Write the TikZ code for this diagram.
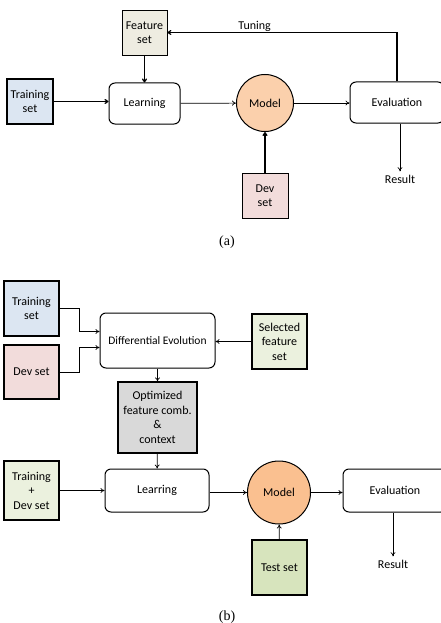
\documentclass[tikz,border=0pt]{standalone}
\usepackage{fontspec}
\setmainfont{Carlito}
\newfontfamily\capfont{Liberation Serif}
\usetikzlibrary{positioning,arrows.meta}

\definecolor{trainblue}{HTML}{DCE6F2}
\definecolor{featbeige}{HTML}{EEECE1}
\definecolor{devpink}{HTML}{F2DCDB}
\definecolor{peachlight}{HTML}{FBD0AC}
\definecolor{peach}{HTML}{FAC090}
\definecolor{selgreen}{HTML}{EBF1DE}
\definecolor{testgreen}{HTML}{D7E4BD}
\definecolor{optgray}{HTML}{D9D9D9}

\begin{document}
\begin{tikzpicture}[x=1pt,y=-1pt,
			every node/.style={font=\fontsize{12}{14.5}\selectfont},
			box/.style={draw,rectangle,inner sep=0pt,align=center,line width=0.8pt},
			rbox/.style={box,rounded corners=6pt,line width=1pt,fill=white},
			mdl/.style={draw,circle,inner sep=0pt,line width=1pt},
			arr/.style={-{To[length=4pt,width=5pt]},line width=0.7pt},
			tarr/.style={arr,line width=1.2pt},
			subcap/.style={font=\capfont\fontsize{14}{16}\selectfont}]
			\useasboundingbox (0,0) rectangle (441,623);

			\node (feat) [box,fill=featbeige,minimum width=45pt,minimum height=45pt] at (144.5,32.5) {Feature\\set};
			\node (train) [box,fill=trainblue,line width=1.5pt,minimum width=46pt,minimum height=45pt] at (30,101.5) {Training\\set};
			\node (learn) [rbox,minimum width=71pt,minimum height=41pt] at (144.5,103.5) {Learning};
			\node (model) [mdl,fill=peachlight,minimum size=57pt] at (265,103) {Model};
			\node (eval) [rbox,minimum width=94pt,minimum height=41pt] at (397,102.5) {Evaluation};
			\node (dev) [box,fill=devpink,minimum width=46pt,minimum height=45pt] at (265,195.5) {Dev\\set};
			\node (result) at (400,179) {Result};
			\node (capa) [subcap] at (227,242) {(a)};

			\draw [tarr] (feat) -- (learn);
			\draw [tarr] (train.east) -- (train.east -| learn.west);
			\draw [arr] (learn) -- (model);
			\draw [arr] (model) -- (model -| eval.west);
			\draw [tarr] (dev) -- (model);
			\draw [arr] (eval.south -| result) -- (result.north);
			\draw [tarr] (eval.north) |- node [above,inner sep=0.5pt,pos=0.81] {Tuning} (feat.east);

			\node (trainb) [box,fill=trainblue,line width=1.2pt,minimum width=55pt,minimum height=55pt] at (31.5,308.5) {Training\\set};
			\node (devb) [box,fill=devpink,line width=1.2pt,minimum width=55pt,minimum height=54pt] at (31.5,372) {Dev set};
			\node (de) [rbox,minimum width=115pt,minimum height=55pt,font=\fontsize{11.5}{14}\selectfont] at (157.5,340.5) {Differential Evolution};
			\node (sel) [box,fill=selgreen,line width=1.2pt,minimum width=55pt,minimum height=55pt] at (279.5,341.5) {Selected\\feature\\set};
			\node (opt) [box,fill=optgray,line width=1.2pt,minimum width=79pt,minimum height=71pt] at (157.5,417.5) {Optimized\\feature comb.\\\&\\context};
			\node (trdev) [box,fill=selgreen,line width=1.2pt,minimum width=55pt,minimum height=59pt] at (31.5,490.5) {Training\\+\\Dev set};
			\node (learnb) [rbox,minimum width=104pt,minimum height=43pt] at (157,490.5) {Learring};
			\node (modelb) [mdl,fill=peach,minimum size=63pt] at (279,492.5) {Model};
			\node (evalb) [rbox,minimum width=104pt,minimum height=43pt] at (395,490.5) {Evaluation};
			\node (test) [box,fill=testgreen,line width=1.2pt,minimum width=55pt,minimum height=55pt] at (279.5,567.5) {Test set};
			\node (resultb) at (393,564) {Result};
			\node (capb) [subcap] at (227,617) {(b)};

			\draw [arr] (trainb.east) -- ++(20,0) |- ([yshift=9pt]de.west);
			\draw [arr] (devb.east) -- ++(20,0) |- ([yshift=-7pt]de.west);
			\draw [arr] (sel.west) -- (sel.west -| de.east);
			\draw [arr] (de.south -| opt) -- (opt.north);
			\draw [arr] (opt) -- (learnb);
			\draw [arr] (trdev.east) -- (trdev.east -| learnb.west);
			\draw [arr] (learnb.east |- modelb) -- (modelb.west);
			\draw [arr] (modelb.east) -- (modelb -| evalb.west);
			\draw [arr] (test) -- (modelb);
			\draw [arr] (evalb.south -| resultb) -- (resultb.north);
		\end{tikzpicture}
\end{document}
